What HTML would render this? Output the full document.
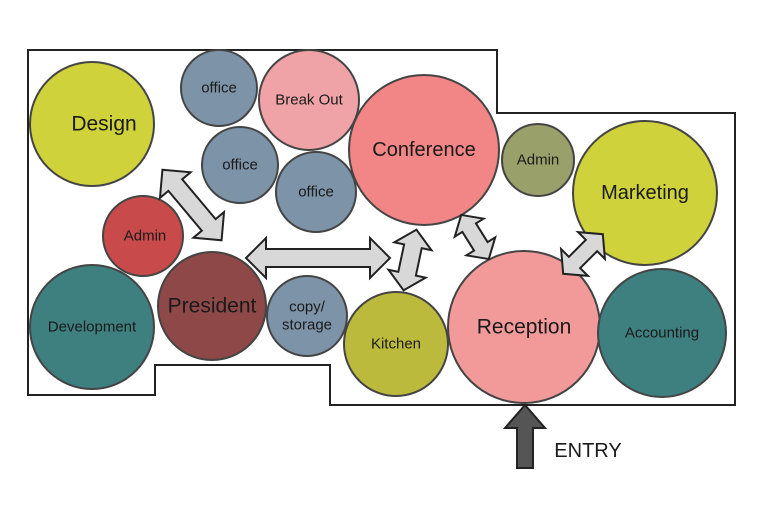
<!DOCTYPE html>
<html><head><meta charset="utf-8"><style>
html,body{margin:0;padding:0;background:#fff;}
svg{display:block}
text{font-family:"Liberation Sans",sans-serif;fill:#1a1a1a;text-anchor:middle;dominant-baseline:central}
</style></head><body>
<svg width="760" height="505" viewBox="0 0 760 505" xmlns="http://www.w3.org/2000/svg">
<polygon points="28,50 497,50 497,113 735,113 735,405 330,405 330,365 155,365 155,395 28,395" fill="none" stroke="#222" stroke-width="2"/>
<g stroke="#444" stroke-width="2">
<circle cx="92" cy="124" r="62" fill="#cfd23a"/>
<circle cx="219" cy="88" r="38" fill="#7d93a8"/>
<circle cx="309" cy="100" r="50" fill="#f0a3a6"/>
<circle cx="240" cy="165" r="38" fill="#7d93a8"/>
<circle cx="316" cy="192" r="40" fill="#7d93a8"/>
<circle cx="424" cy="150" r="75" fill="#f28585"/>
<circle cx="538" cy="160" r="36" fill="#9aa06a"/>
<circle cx="645" cy="193" r="72" fill="#cfd23a"/>
<circle cx="143" cy="236" r="40" fill="#c84a4a"/>
<circle cx="92" cy="327" r="62" fill="#3e7f80"/>
<circle cx="212" cy="306" r="54" fill="#8e4848"/>
<circle cx="307" cy="316" r="40" fill="#7d93a8"/>
<circle cx="396" cy="344" r="52" fill="#bcba3c"/>
<circle cx="524" cy="327" r="76" fill="#f29a9a"/>
<circle cx="662" cy="333" r="64" fill="#3e7f80"/>
</g>
<g fill="#d8d8d8" stroke="#222" stroke-width="2">
<polygon points="-46,0 -26,-20 -26,-9 26,-9 26,-20 46,0 26,20 26,9 -26,9 -26,20" transform="translate(192,205) rotate(50)"/>
<polygon points="-72,0 -52,-20 -52,-9 52,-9 52,-20 72,0 52,20 52,9 -52,9 -52,20" transform="translate(318,258)"/>
<polygon points="-31,0 -14,-19 -14,-9 14,-9 14,-19 31,0 14,19 14,9 -14,9 -14,19" transform="translate(410,260) rotate(-78)"/>
<polygon points="-26,0 -11,-17 -11,-8 11,-8 11,-17 26,0 11,17 11,8 -11,8 -11,17" transform="translate(475,237) rotate(58)"/>
<polygon points="-28,0 -12,-19 -12,-8 12,-8 12,-19 28,0 12,19 12,8 -12,8 -12,19" transform="translate(583,254) rotate(-45)"/>
</g>
<polygon points="525,405 505,428 517,428 517,468 533,468 533,428 545,428" fill="#555" stroke="#222" stroke-width="2"/>
<text x="588" y="451" font-size="20">ENTRY</text>
<text x="104" y="124" font-size="21">Design</text>
<text x="219" y="88" font-size="15">office</text>
<text x="309" y="100" font-size="15">Break Out</text>
<text x="240" y="165" font-size="15">office</text>
<text x="316" y="192" font-size="15">office</text>
<text x="424" y="150" font-size="20">Conference</text>
<text x="538" y="160" font-size="15">Admin</text>
<text x="645" y="193" font-size="20">Marketing</text>
<text x="145" y="236" font-size="15">Admin</text>
<text x="92" y="327" font-size="15">Development</text>
<text x="212" y="306" font-size="21">President</text>
<text x="307" y="307" font-size="15">copy/</text>
<text x="307" y="325" font-size="15">storage</text>
<text x="396" y="344" font-size="15">Kitchen</text>
<text x="524" y="327" font-size="21">Reception</text>
<text x="662" y="333" font-size="15">Accounting</text>
</svg>
</body></html>
